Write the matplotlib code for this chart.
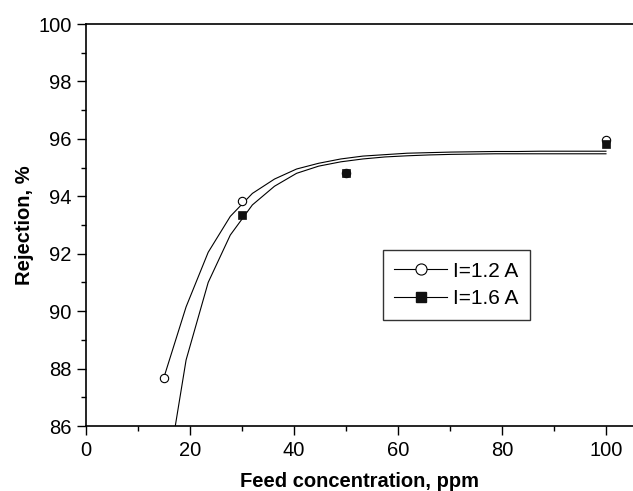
import matplotlib
matplotlib.use("Agg")
import matplotlib.pyplot as plt
from matplotlib.lines import Line2D
from matplotlib.ticker import MultipleLocator

plt.rcParams['font.family'] = ['Liberation Sans', 'DejaVu Sans']

# measured rejection
feed_12 = [15, 30, 50, 100]
rej_12 = [87.68, 93.83, 94.80, 95.95]
feed_16 = [30, 50, 100]
rej_16 = [93.36, 94.80, 95.82]

# fitted curves (sampled points)
fit_x = [15, 19.25, 23.5, 27.75, 32, 36.25, 40.5, 44.75, 49, 53.25, 57.5,
         61.75, 66, 70.25, 74.5, 78.75, 83, 87.25, 91.5, 95.75, 100]
fit_12 = [87.7, 90.15, 92.05, 93.3, 94.1, 94.6, 94.95, 95.15, 95.3, 95.4, 95.45,
          95.5, 95.52, 95.54, 95.55, 95.56, 95.56, 95.57, 95.57, 95.57, 95.57]
fit_16 = [83.6, 88.3, 91.0, 92.65, 93.7, 94.35, 94.8, 95.05, 95.2, 95.3, 95.37,
          95.41, 95.44, 95.46, 95.47, 95.48, 95.48, 95.48, 95.48, 95.48, 95.48]

labels = ["I=1.2 A", "I=1.6 A"]

fig = plt.figure(figsize=(6.33, 4.91), dpi=100)
ax = fig.add_axes([86 / 633, 1 - 426 / 491, 547 / 633, 402 / 491])

ax.plot(fit_x, fit_12, color='black', lw=0.8)
ax.plot(fit_x, fit_16, color='black', lw=0.8)
ax.plot(feed_12, rej_12, 'o', ms=6, mfc='white', mec='black', mew=0.8)
ax.plot(feed_16, rej_16, 's', ms=5.5, mfc='#111111', mec='#111111', mew=0.5)

ax.set_xlim(0, 105.2)
ax.set_ylim(86, 100)
ax.xaxis.set_major_locator(MultipleLocator(20))
ax.xaxis.set_minor_locator(MultipleLocator(10))
ax.yaxis.set_major_locator(MultipleLocator(2))
ax.yaxis.set_minor_locator(MultipleLocator(1))
ax.tick_params(which='major', direction='out', length=6.5, width=1, labelsize=14.5, pad=4)
ax.tick_params(which='minor', direction='out', length=3.5, width=1)
ax.spines['right'].set_visible(False)
for s in ['left', 'bottom', 'top']:
    ax.spines[s].set_linewidth(1.2)

ax.set_xlabel("Feed concentration, ppm", fontsize=14.5, fontweight='bold', labelpad=9)
ax.set_ylabel("Rejection, %", fontsize=14.5, fontweight='bold', labelpad=3)

handles = [
    Line2D([], [], color='black', lw=0.8, marker='o', ms=8, mfc='white', mec='black', mew=0.8),
    Line2D([], [], color='black', lw=0.8, marker='s', ms=7.5, mfc='#111111', mec='#111111'),
]
leg = ax.legend(handles, labels, loc='upper left', bbox_to_anchor=(0.543, 0.437),
                borderaxespad=0, fancybox=False, fontsize=15, handlelength=2.5,
                handletextpad=0.3, labelspacing=0.4, borderpad=0.55)
leg.get_frame().set_edgecolor('black')
leg.get_frame().set_linewidth(1.0)

fig.savefig("out.png", dpi=100)
